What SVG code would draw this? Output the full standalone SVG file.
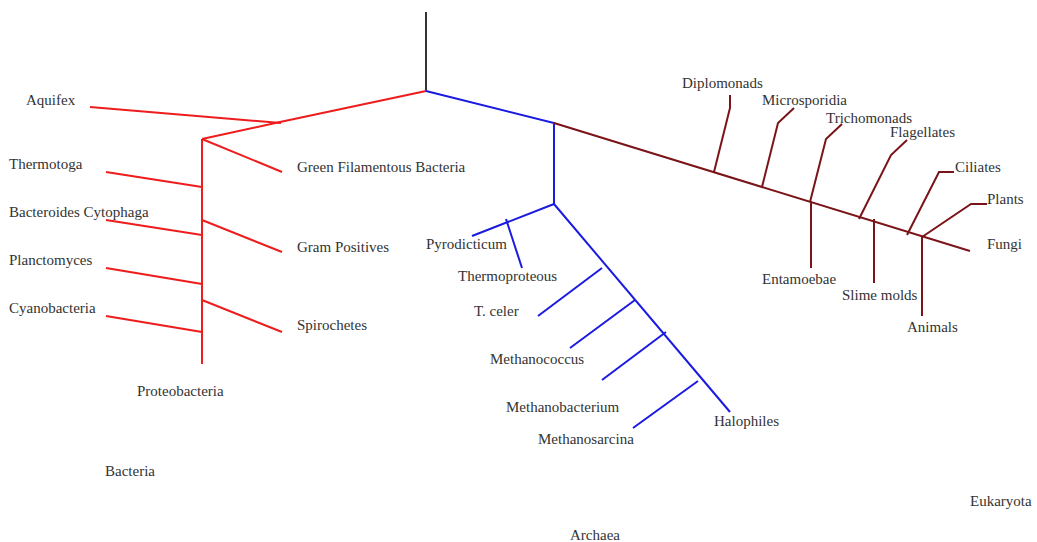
<svg xmlns="http://www.w3.org/2000/svg" width="1037" height="542" viewBox="0 0 1037 542">
  <style>
    text { font-family: "Liberation Serif", "Times New Roman", serif; font-size: 15px; fill: #333; }
    .edge { fill: none; stroke-width: 2; stroke-linecap: butt; stroke-linejoin: miter; }
    .root { stroke: #333; }
    .bac { stroke: #ee1c1c; }
    .arc { stroke: #1a1ae0; }
    .euk { stroke: #7a1418; }
  </style>
  <rect width="1037" height="542" fill="#fff"/>

  <!-- branches of the tree -->
  <g id="connectors">
    <line class="edge root" x1="426" y1="12" x2="426" y2="92"/>

    <!-- Bacteria -->
    <polyline class="edge bac" points="426,91 280,122 202,139"/>
    <line class="edge bac" x1="90" y1="107" x2="281" y2="123"/>
    <line class="edge bac" x1="202" y1="139" x2="202" y2="364"/>
    <line class="edge bac" x1="202" y1="139" x2="282" y2="172"/>
    <line class="edge bac" x1="106" y1="172" x2="202" y2="187"/>
    <line class="edge bac" x1="106" y1="220" x2="202" y2="235"/>
    <line class="edge bac" x1="202" y1="220" x2="282" y2="252"/>
    <line class="edge bac" x1="106" y1="268" x2="202" y2="284"/>
    <line class="edge bac" x1="202" y1="300" x2="282" y2="332"/>
    <line class="edge bac" x1="106" y1="316" x2="202" y2="332"/>

    <!-- Archaea -->
    <polyline class="edge arc" points="426,91 554,123 554,204"/>
    <line class="edge arc" x1="554" y1="204" x2="472" y2="236"/>
    <line class="edge arc" x1="506" y1="219" x2="522" y2="268"/>
    <line class="edge arc" x1="554" y1="204" x2="730" y2="412"/>
    <line class="edge arc" x1="602" y1="268" x2="538" y2="316"/>
    <line class="edge arc" x1="635" y1="300" x2="570" y2="348"/>
    <line class="edge arc" x1="666" y1="332" x2="602" y2="380"/>
    <line class="edge arc" x1="698" y1="381" x2="633" y2="428"/>

    <!-- Eukaryota -->
    <line class="edge euk" x1="554" y1="123" x2="970" y2="251"/>
    <polyline class="edge euk" points="714,172 730,108 730,95"/>
    <polyline class="edge euk" points="762,187 778,123 794,108"/>
    <polyline class="edge euk" points="810,202 826,139 842,124"/>
    <line class="edge euk" x1="811" y1="201" x2="811" y2="268"/>
    <polyline class="edge euk" points="859,219 891,155 907,140"/>
    <line class="edge euk" x1="874" y1="219" x2="874" y2="283"/>
    <polyline class="edge euk" points="907,235 939,172 954,172"/>
    <polyline class="edge euk" points="922,237 971,204 987,204"/>
    <line class="edge euk" x1="922" y1="236" x2="922" y2="316"/>
  </g>

  <!-- Bacteria labels -->
  <g id="aquifex"><text x="26" y="105">Aquifex</text></g>
  <g id="thermotoga"><text x="9" y="169">Thermotoga</text></g>
  <g id="bacteroides"><text x="9" y="217">Bacteroides Cytophaga</text></g>
  <g id="planctomyces"><text x="9" y="265">Planctomyces</text></g>
  <g id="cyanobacteria"><text x="9" y="313">Cyanobacteria</text></g>
  <g id="green-filamentous"><text x="297" y="172">Green Filamentous Bacteria</text></g>
  <g id="gram-positives"><text x="297" y="252">Gram Positives</text></g>
  <g id="spirochetes"><text x="297" y="330">Spirochetes</text></g>
  <g id="proteobacteria"><text x="137" y="396">Proteobacteria</text></g>
  <g id="bacteria"><text x="105" y="476">Bacteria</text></g>

  <!-- Archaea labels -->
  <g id="pyrodicticum"><text x="426" y="249">Pyrodicticum</text></g>
  <g id="thermoproteous"><text x="458" y="281">Thermoproteous</text></g>
  <g id="t-celer"><text x="474" y="316">T. celer</text></g>
  <g id="methanococcus"><text x="490" y="364">Methanococcus</text></g>
  <g id="methanobacterium"><text x="506" y="412">Methanobacterium</text></g>
  <g id="methanosarcina"><text x="538" y="444">Methanosarcina</text></g>
  <g id="halophiles"><text x="714" y="426">Halophiles</text></g>
  <g id="archaea"><text x="570" y="540">Archaea</text></g>

  <!-- Eukaryota labels -->
  <g id="diplomonads"><text x="682" y="88">Diplomonads</text></g>
  <g id="microsporidia"><text x="762" y="105">Microsporidia</text></g>
  <g id="trichomonads"><text x="826" y="123">Trichomonads</text></g>
  <g id="flagellates"><text x="890" y="137">Flagellates</text></g>
  <g id="ciliates"><text x="955" y="172">Ciliates</text></g>
  <g id="plants"><text x="987" y="204">Plants</text></g>
  <g id="fungi"><text x="987" y="249">Fungi</text></g>
  <g id="entamoebae"><text x="762" y="284">Entamoebae</text></g>
  <g id="slime-molds"><text x="842" y="300">Slime molds</text></g>
  <g id="animals"><text x="907" y="332">Animals</text></g>
  <g id="eukaryota"><text x="970" y="506">Eukaryota</text></g>
</svg>
